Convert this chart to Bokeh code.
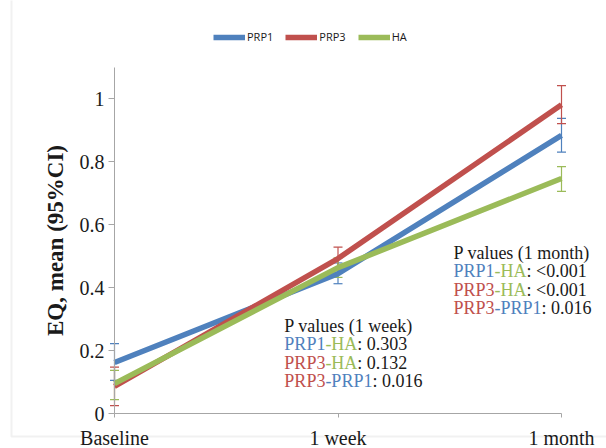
from bokeh.plotting import figure
from bokeh.models import (Range1d, FixedTicker, Whisker, TeeHead, ColumnDataSource,
                          Legend, LegendItem, LabelSet, LinearAxis, BoxAnnotation)
from bokeh.embed import file_html
from bokeh.resources import INLINE

# ---- data ----
timepoints = ["Baseline", "1 week", "1 month"]
x_pos = [0, 1, 2]

prp1_mean = [0.162, 0.444, 0.883]
prp1_lo = [0.105, 0.412, 0.830]
prp1_hi = [0.222, 0.478, 0.937]

prp3_mean = [0.086, 0.492, 0.980]
prp3_lo = [0.025, 0.455, 0.920]
prp3_hi = [0.147, 0.528, 1.041]

ha_mean = [0.095, 0.463, 0.746]
ha_lo = [0.044, 0.432, 0.705]
ha_hi = [0.137, 0.494, 0.784]

y_ticks = [0, 0.2, 0.4, 0.6, 0.8, 1.0]
y_tick_labels = ["0", "0.2", "0.4", "0.6", "0.8", "1"]

series_names = ["PRP1", "PRP3", "HA"]
colors = {"PRP1": "#4F81BD", "PRP3": "#C0504D", "HA": "#9BBB59"}
BLACK = "#1a1a1a"

# P-value annotation blocks: (title, rows of (first, second, value))
pval_week_title = "P values (1 week)"
pval_week_rows = [("PRP1", "HA", "0.303"), ("PRP3", "HA", "0.132"), ("PRP3", "PRP1", "0.016")]
pval_month_title = "P values (1 month)"
pval_month_rows = [("PRP1", "HA", "<0.001"), ("PRP3", "HA", "<0.001"), ("PRP3", "PRP1", "0.016")]
pval_week_anchor = (0.76, 0.279)
pval_month_anchor = (1.517, 0.511)

# ---- figure: the frame fills the canvas; axes are pinned at x=0 / y=0 ----
W, H = 606, 448
AX_L, AX_R, AX_B, AX_T = 114, 561, 413, 98      # pixel positions of x=0, x=2, y=0, y=1
xs = (AX_R - AX_L) / 2.0
ys = (AX_B - AX_T) / 1.0
p = figure(width=W, height=H, output_backend="svg", toolbar_location=None,
           x_range=Range1d(-AX_L / xs, (W - AX_L) / xs),
           y_range=Range1d(-(H - AX_B) / ys, AX_B / ys),
           x_axis_location=None, y_axis_location=None,
           min_border=0, min_border_left=0, min_border_right=0,
           min_border_top=0, min_border_bottom=0)
p.outline_line_color = None
p.xgrid.visible = False
p.ygrid.visible = False
p.background_fill_color = "white"
p.border_fill_color = "white"

# outer chart-area border
p.add_layout(BoxAnnotation(left=11, right=W + 20, top=12, bottom=H + 20,
                           left_units="screen", right_units="screen",
                           top_units="screen", bottom_units="screen",
                           fill_color=None, line_color="#d2d2d2", line_width=2,
                           level="underlay"))

means = {"PRP1": prp1_mean, "PRP3": prp3_mean, "HA": ha_mean}
los = {"PRP1": prp1_lo, "PRP3": prp3_lo, "HA": ha_lo}
his = {"PRP1": prp1_hi, "PRP3": prp3_hi, "HA": ha_hi}

renderers = {}
for name in series_names:
    src = ColumnDataSource(dict(x=x_pos, y=means[name]))
    r = p.line("x", "y", source=src, line_width=5.5, line_color=colors[name])
    renderers[name] = r
for name in series_names:
    src = ColumnDataSource(dict(x=x_pos, lo=los[name], hi=his[name]))
    w = Whisker(base="x", lower="lo", upper="hi", source=src, dimension="height",
                line_color=colors[name], line_width=1.2,
                lower_head=TeeHead(size=9, line_color=colors[name], line_width=1.2),
                upper_head=TeeHead(size=9, line_color=colors[name], line_width=1.2))
    p.add_layout(w)

# ---- axes ----
font = "Liberation Serif"
xaxis = LinearAxis(fixed_location=0, bounds=(0, 2),
                   ticker=FixedTicker(ticks=x_pos),
                   major_label_overrides={t: l for t, l in zip(x_pos, timepoints)})
yaxis = LinearAxis(fixed_location=0, bounds=(0, 1.1),
                   ticker=FixedTicker(ticks=y_ticks),
                   major_label_overrides={t: l for t, l in zip(y_ticks, y_tick_labels)})
for ax in (xaxis, yaxis):
    ax.axis_line_color = "#a6a6a6"
    ax.major_tick_line_color = "#a6a6a6"
    ax.minor_tick_line_color = None
    ax.major_tick_in = 0
    ax.major_label_text_font = font
    ax.major_label_text_font_size = "20px"
    ax.major_label_text_color = BLACK
yaxis.major_tick_out = 6
yaxis.major_label_standoff = 4
xaxis.major_tick_out = 4
xaxis.major_label_standoff = 9
yaxis.axis_label = "EQ, mean (95%CI)"
yaxis.axis_label_text_font = font
yaxis.axis_label_text_font_style = "bold"
yaxis.axis_label_text_font_size = "23px"
yaxis.axis_label_text_color = BLACK
yaxis.axis_label_standoff = 9
p.add_layout(xaxis, "below")
p.add_layout(yaxis, "left")

# ---- legend ----
legend = Legend(items=[LegendItem(label=n, renderers=[renderers[n]]) for n in series_names],
                orientation="horizontal", location=(213, 404),
                border_line_color=None, background_fill_alpha=0,
                padding=0, margin=0, spacing=12, glyph_width=32, glyph_height=14,
                label_standoff=2, label_text_font="Open Sans", label_text_font_size="11px",
                label_text_color=BLACK, label_height=14)
p.add_layout(legend)

# ---- P-value annotations (multi-coloured text segments) ----
TW = {'P': 0.556, 'R': 0.667, 'H': 0.722, 'A': 0.722, '-': 0.333, ':': 0.278, ' ': 0.25,
      '<': 0.564, '.': 0.25}
def tw(s, size):
    return sum(TW.get(c, 0.5) for c in s) * size

FS = 18
LINE = 18.5
seg = dict(x=[], y=[], text=[], color=[], xo=[], yo=[])
def add_block(anchor, title, rows):
    ax_, ay_ = anchor
    seg["x"].append(ax_); seg["y"].append(ay_); seg["text"].append(title)
    seg["color"].append(BLACK); seg["xo"].append(0); seg["yo"].append(0)
    for i, (a, b, v) in enumerate(rows):
        parts = [(a, colors[a]), ("-" + b, colors[b]), (": " + v, BLACK)]
        off = 0.0
        for txt, col in parts:
            seg["x"].append(ax_); seg["y"].append(ay_); seg["text"].append(txt)
            seg["color"].append(col); seg["xo"].append(off); seg["yo"].append(-LINE * (i + 1))
            off += tw(txt, FS)

add_block(pval_week_anchor, pval_week_title, pval_week_rows)
add_block(pval_month_anchor, pval_month_title, pval_month_rows)

labels = LabelSet(x="x", y="y", text="text", x_offset="xo", y_offset="yo",
                  source=ColumnDataSource(seg), text_color="color",
                  text_font=font, text_font_size=f"{FS}px", text_baseline="middle",
                  text_align="left")
p.add_layout(labels)

open("out.html", "w").write(file_html(p, INLINE))
